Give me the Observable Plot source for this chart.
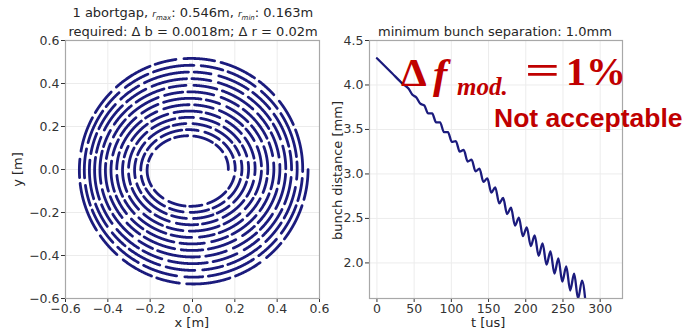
<!DOCTYPE html>
<html><head><meta charset="utf-8">
<script src="https://cdn.jsdelivr.net/npm/d3@7"></script>
<script src="https://cdn.jsdelivr.net/npm/@observablehq/plot@0.6"></script>
<style>
body{margin:0;background:#fff;font-family:"DejaVu Sans",sans-serif;}
#wrap{position:relative;width:685px;height:330px;overflow:hidden;background:#fff;}
#wrap svg{position:absolute;top:0;}
.t{position:absolute;white-space:nowrap;color:#262626;font-size:13px;font-family:"DejaVu Sans",sans-serif;line-height:1;}
.red{position:absolute;white-space:nowrap;color:#c00000;line-height:1;}
</style></head><body><div id="wrap"></div>
<script>
// ---------- data: left panel (spiral of bunches) ----------
const rMin = 0.163, rMax = 0.546;          // from the title
const spiralTurns = 13;                      // rings counted in the picture
const stretchX = [1.13, 1.0];                // inner / outer horizontal stretch
const stretchY = [0.92, 0.99];               // inner / outer vertical stretch
const centerShiftX = [-0.015, 0.0];          // inner / outer centre offset
const dashLenBase = [0.065, 0.15];           // dash arc length (m) inner / outer
const gapLenBase = [0.022, 0.028];           // gap arc length (m) inner / outer
const dashVariation = [1.0, 0.7, 1.3, 0.85, 1.15, 0.6, 1.6, 0.8, 1.05, 0.75, 1.4, 0.9, 0.65, 1.2];
const gapVariation = [1.0, 1.25, 0.8, 1.1, 0.9, 1.3, 0.85];
const xyTicks = [-0.6, -0.4, -0.2, 0.0, 0.2, 0.4, 0.6];

const tVals = [0, 20, 35, 42.4, 47.7, 53.0, 58.3, 63.6, 68.9, 74.2, 79.5, 84.8, 90.1, 95.4, 100.7, 106.0, 111.3, 116.6, 121.9, 127.2, 132.5, 137.8, 143.1, 148.4, 153.7, 159.0, 164.3, 169.6, 174.9, 180.2, 185.5, 190.8, 196.1, 201.4, 206.7, 212.0, 217.3, 222.6, 227.9, 233.2, 238.5, 243.8, 249.1, 254.4, 259.7, 265.0, 270.3, 275.6, 280.9];
const dVals = [4.30, 4.135, 4.01, 3.96, 3.89, 3.86, 3.79, 3.77, 3.68, 3.68, 3.58, 3.58, 3.47, 3.47, 3.36, 3.37, 3.25, 3.27, 3.14, 3.16, 3.03, 3.06, 2.91, 2.95, 2.79, 2.85, 2.67, 2.73, 2.55, 2.62, 2.42, 2.51, 2.30, 2.40, 2.19, 2.31, 2.08, 2.22, 1.98, 2.13, 1.88, 2.05, 1.79, 1.96, 1.69, 1.88, 1.60, 1.80, 1.51];
const tTicks = [0, 50, 100, 150, 200, 250, 300];
const dTicks = [2.0, 2.5, 3.0, 3.5, 4.0, 4.5];

// ---------- build spiral dashes ----------
const lerp = (a, f) => a[0] + (a[1] - a[0]) * f;
const spiral = [];
{
  const total = 2 * Math.PI * spiralTurns;
  const step = 0.004;
  let id = 0, s = 0, on = true, kd = 0, kg = 0;
  let target = dashLenBase[0] * dashVariation[0];
  for (let th = 0; th <= total; th += step) {
    const f = th / total;
    const r = rMin + (rMax - rMin) * f;
    const x = lerp(centerShiftX, f) + r * lerp(stretchX, f) * Math.cos(th);
    const y = r * lerp(stretchY, f) * Math.sin(th);
    if (on) spiral.push({x, y, id});
    s += r * step;
    if (s >= target) {
      s = 0; on = !on;
      if (on) { id++; kd++; target = lerp(dashLenBase, f) * dashVariation[kd % dashVariation.length]; }
      else { kg++; target = lerp(gapLenBase, f) * gapVariation[kg % gapVariation.length]; }
    }
  }
}
const lineData = tVals.map((t, i) => ({t, d: dVals[i]}));

const fmt1 = d => d.toFixed(1).replace("-", "\u2212");
const navy = "#1b1b7d";
const gridC = "#ececec";
const axisStyle = {fontFamily: "DejaVu Sans, sans-serif", fontSize: "12.5px", color: "#333", background: "transparent", overflow: "visible"};

const left = Plot.plot({
  width: 330, height: 330,
  marginLeft: 65, marginRight: 11, marginTop: 40, marginBottom: 32,
  style: axisStyle,
  x: {domain: [-0.6, 0.6], ticks: xyTicks, tickFormat: fmt1, label: null, tickSize: 4, tickPadding: 2},
  y: {domain: [-0.6, 0.6], ticks: xyTicks, tickFormat: fmt1, label: null, tickSize: 4, tickPadding: 2},
  marks: [
    Plot.gridX(xyTicks, {stroke: gridC, strokeOpacity: 1}),
    Plot.gridY(xyTicks, {stroke: gridC, strokeOpacity: 1}),
    Plot.line(spiral, {x: "x", y: "y", z: "id", stroke: navy, strokeWidth: 2.8, strokeLinecap: "round"}),
    Plot.frame({stroke: "#a8a8a8", strokeWidth: 1.2})
  ]
});
left.style.left = "0px";

const right = Plot.plot({
  width: 355, height: 330,
  marginLeft: 39, marginRight: 63, marginTop: 40, marginBottom: 32,
  style: axisStyle,
  x: {domain: [-10, 330], ticks: tTicks, tickFormat: d => String(d), label: null, tickSize: 4, tickPadding: 2},
  y: {domain: [1.6, 4.5], ticks: dTicks, tickFormat: fmt1, label: null, tickSize: 4, tickPadding: 2},
  marks: [
    Plot.gridX(tTicks, {stroke: gridC, strokeOpacity: 1}),
    Plot.gridY(dTicks, {stroke: gridC, strokeOpacity: 1}),
    Plot.line(lineData, {x: "t", y: "d", stroke: navy, strokeWidth: 2.3, curve: "monotone-x", clip: true}),
    Plot.frame({stroke: "#a8a8a8", strokeWidth: 1.2})
  ]
});
right.style.left = "330px";

const wrap = document.getElementById("wrap");
wrap.appendChild(left);
wrap.appendChild(right);

function addText(html, x, y, cls, extra) {
  const el = document.createElement("div");
  el.className = cls;
  el.innerHTML = html;
  el.style.left = x + "px";
  el.style.top = y + "px";
  if (extra) Object.assign(el.style, extra);
  wrap.appendChild(el);
  return el;
}
function center(el, cx) { el.style.left = (cx - el.offsetWidth / 2) + "px"; }

// titles
center(addText('1 abortgap, <i style="font-size:9px">r<sub style="font-size:7px">max</sub></i>: 0.546m, <i style="font-size:9px">r<sub style="font-size:7px">min</sub></i>: 0.163m', 0, 6, "t"), 193);
center(addText('required: \u0394 b = 0.0018m; \u0394 r = 0.02m', 0, 25, "t"), 193);
center(addText('minimum bunch separation: 1.0mm', 0, 25, "t"), 495);
// axis labels
center(addText('x [m]', 0, 316, "t"), 192);
center(addText('t [us]', 0, 316, "t"), 488);
const yl = addText('y [m]', 0, 0, "t", {transform: "rotate(-90deg)", transformOrigin: "center"});
yl.style.left = (17 - yl.offsetWidth / 2) + "px"; yl.style.top = (169 - yl.offsetHeight / 2) + "px";
const bl = addText('bunch distance [mm]', 0, 0, "t", {transform: "rotate(-90deg)", transformOrigin: "center"});
bl.style.left = (337 - bl.offsetWidth / 2) + "px"; bl.style.top = (170 - bl.offsetHeight / 2) + "px";

// red annotations (pieces placed like the math text of the reference)
const mathFont = {fontFamily: '"Liberation Serif", serif', fontWeight: "bold"};
addText('\u0394', 401, 52, "red", Object.assign({fontSize: "41px"}, mathFont));
addText('<i>f</i>', 433, 52, "red", Object.assign({fontSize: "43px"}, mathFont));
addText('<i>mod.</i>', 457, 74, "red", Object.assign({fontSize: "25px"}, mathFont));
const eq = addText('=', 0, 50, "red", Object.assign({fontSize: "41px", transform: "scaleX(1.5)", transformOrigin: "left center"}, mathFont));
eq.style.left = "525px";
addText('1%', 566, 52, "red", Object.assign({fontSize: "40px"}, mathFont));
addText('Not acceptable', 494, 105, "red",
  {fontFamily: '"Liberation Sans", Arial, sans-serif', fontWeight: "bold", fontSize: "26.5px"});
</script>
</body></html>
